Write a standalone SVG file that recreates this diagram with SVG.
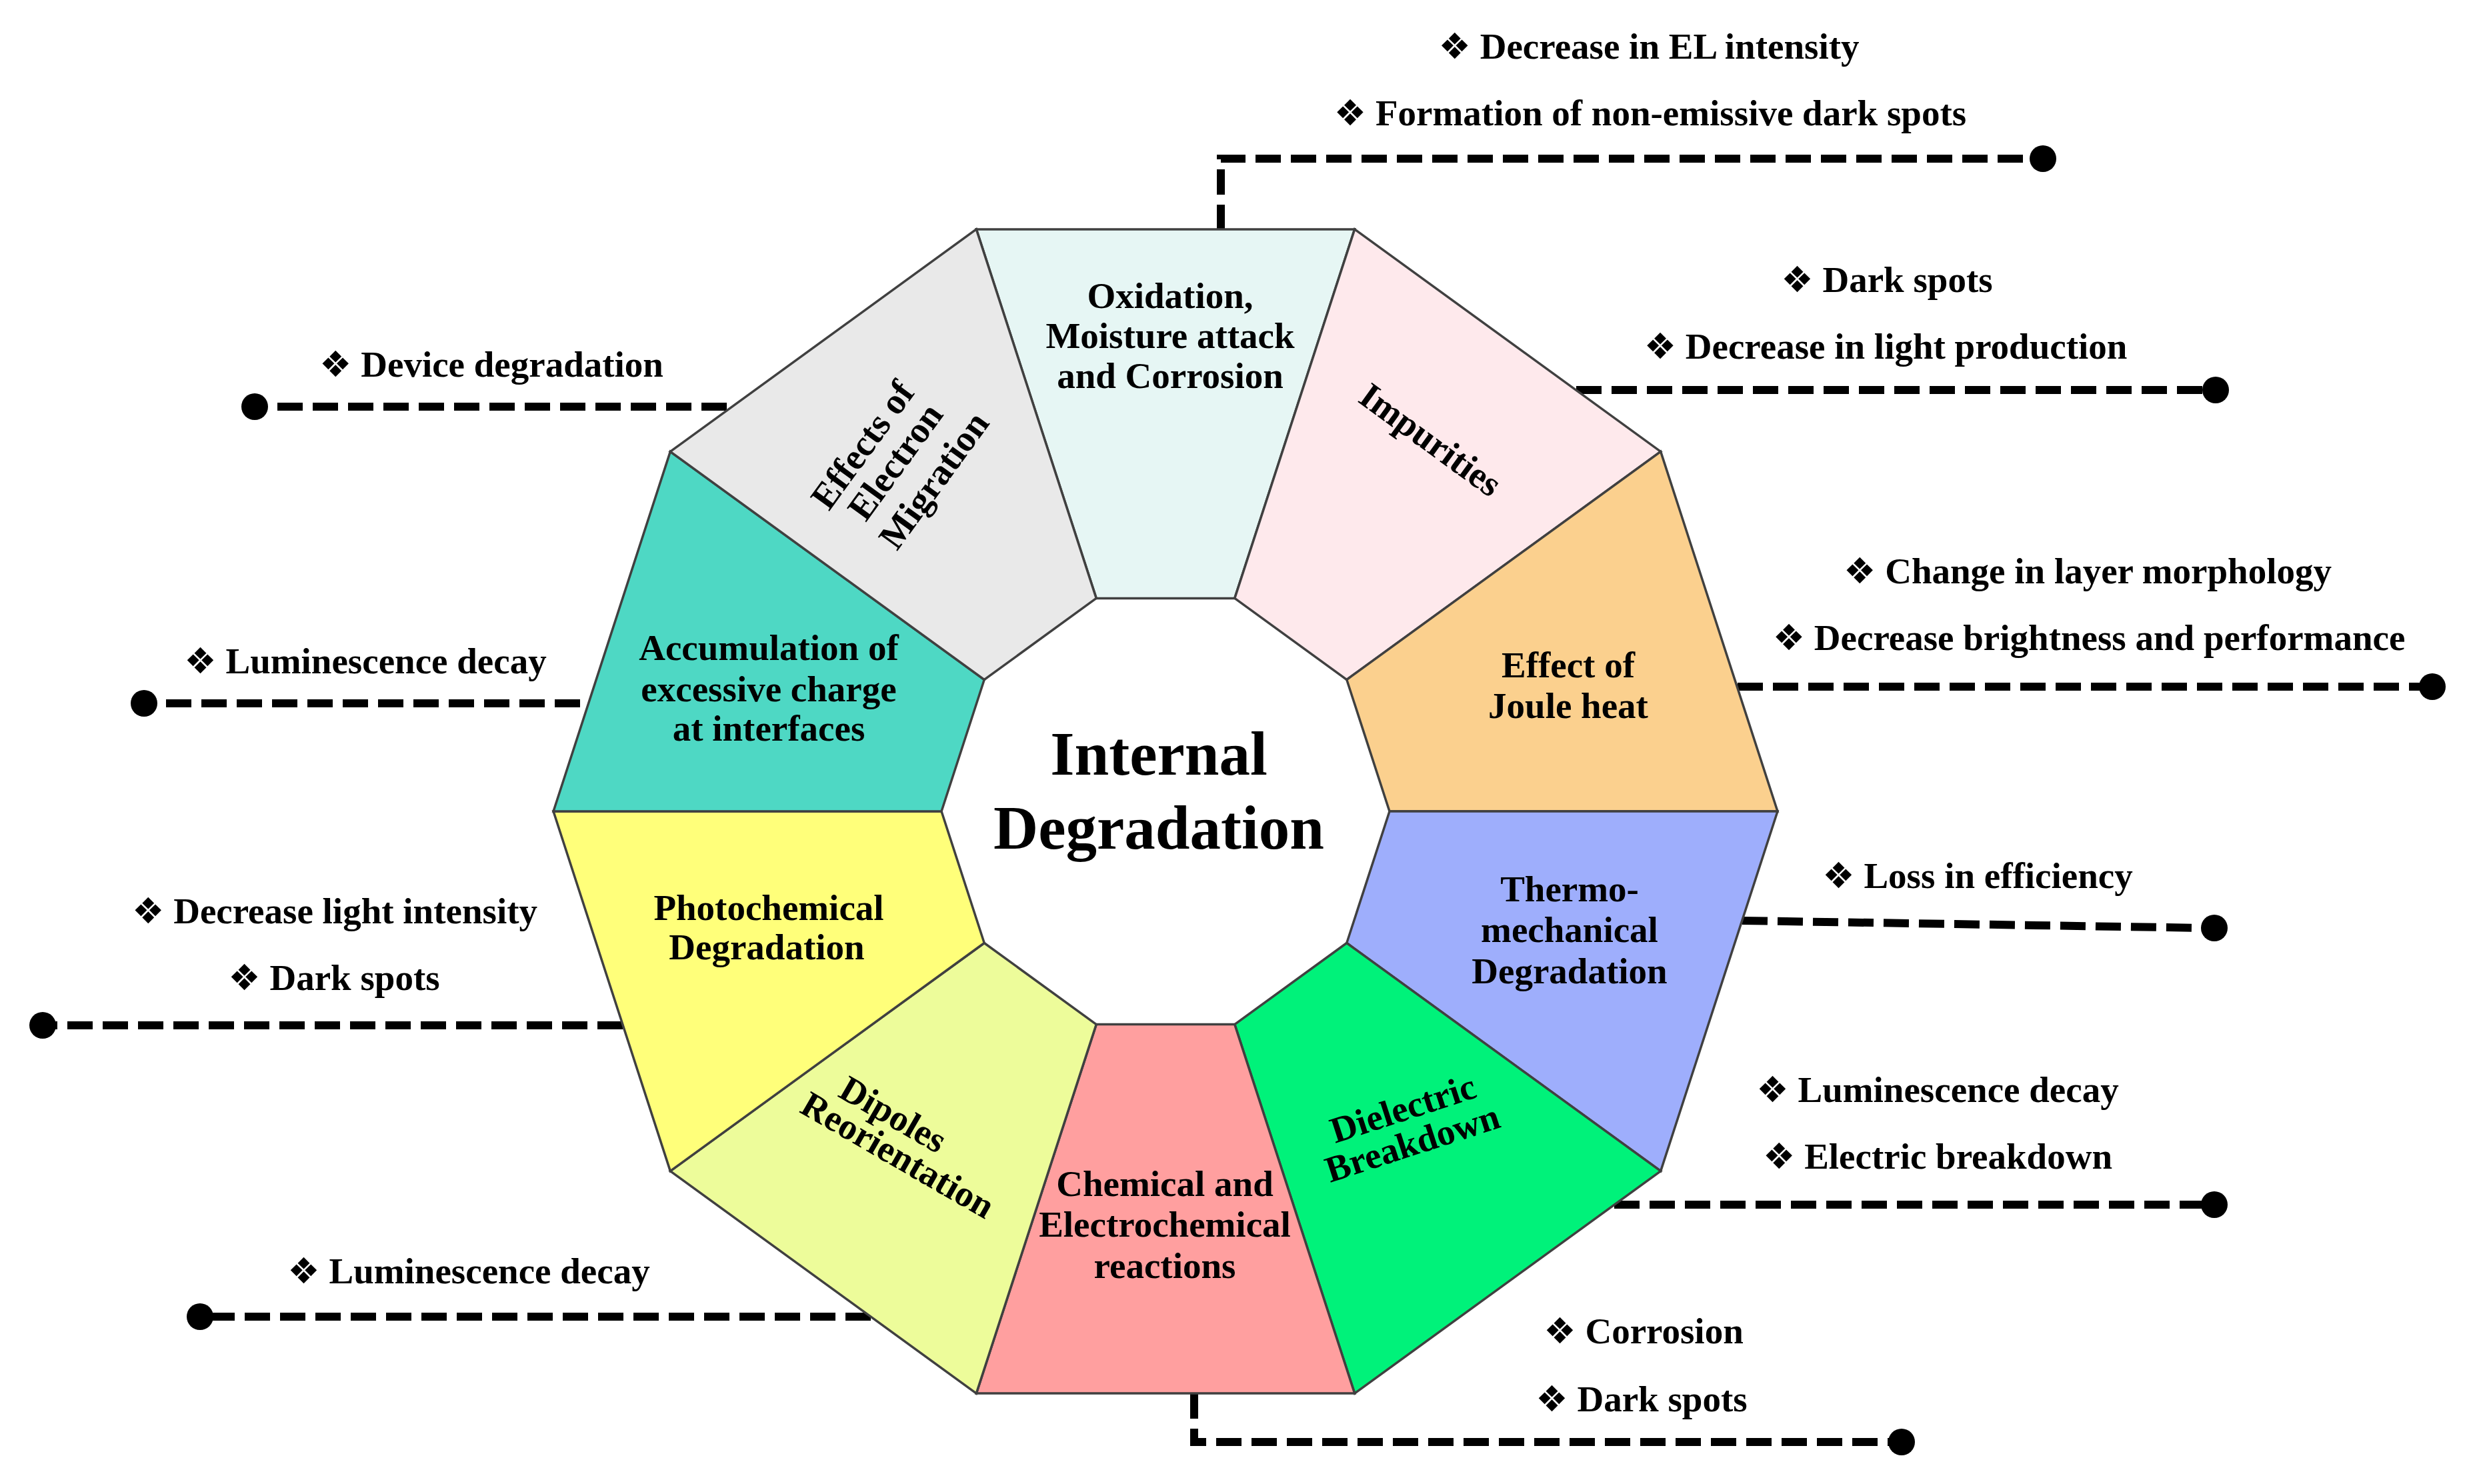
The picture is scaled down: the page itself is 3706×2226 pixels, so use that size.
<svg xmlns="http://www.w3.org/2000/svg" width="3706" height="2226" viewBox="0 0 3706 2226">
<style>
.seg{stroke:#404040;stroke-width:3.5;stroke-linejoin:miter}
.lbl{font-family:"Liberation Serif","Times New Roman",serif;font-weight:bold;font-size:55px;fill:#000;text-anchor:middle}
.side{font-family:"Liberation Serif","Times New Roman",serif;font-weight:bold;font-size:55px;fill:#000;text-anchor:middle}
.dia{font-family:"DejaVu Sans",sans-serif;font-size:54px;font-weight:normal}
.title{font-family:"Liberation Serif","Times New Roman",serif;font-weight:bold;font-size:93px;fill:#000;text-anchor:middle}
.con{fill:none;stroke:#000;stroke-width:12;stroke-dasharray:38 15}
.dot{fill:#000}
</style>
<rect width="3706" height="2226" fill="#fff"/>
<g id="connectors">
<path class="con" d="M1831,345 V238 H3050"/><circle class="dot" cx="3064" cy="238" r="20"/>
<path class="con" d="M2364,585 H3310"/><circle class="dot" cx="3323" cy="585" r="20"/>
<path class="con" d="M2606,1030 H3635"/><circle class="dot" cx="3648" cy="1030" r="20"/>
<path class="con" d="M2613,1381 L3308,1392"/><circle class="dot" cx="3321" cy="1392" r="20"/>
<path class="con" d="M2421,1807 H3308"/><circle class="dot" cx="3321" cy="1807" r="20"/>
<path class="con" d="M1791,2090 V2163 H2840"/><circle class="dot" cx="2852" cy="2163" r="20"/>
<path class="con" d="M1306,1975 H312"/><circle class="dot" cx="300" cy="1975" r="20"/>
<path class="con" d="M934,1538 H76"/><circle class="dot" cx="64" cy="1538" r="20"/>
<path class="con" d="M870,1055 H228"/><circle class="dot" cx="216" cy="1055" r="20"/>
<path class="con" d="M1090,610 H394"/><circle class="dot" cx="382" cy="610" r="20"/>
</g>
<g id="n-oxidation">
<polygon class="seg" fill="#E6F6F4" points="1464.3,343.9 2031.7,343.9 1851.8,897.4 1644.2,897.4"/>
<text class="lbl" x="1755" y="462">Oxidation,</text>
<text class="lbl" x="1755" y="522">Moisture attack</text>
<text class="lbl" x="1755" y="582">and Corrosion</text>
</g>
<g id="n-impurities">
<polygon class="seg" fill="#FEE9EC" points="2031.7,343.9 2490.7,677.4 2019.8,1019.5 1851.8,897.4"/>
<text class="lbl" transform="translate(2146,659) rotate(36)" y="19">Impurities</text>
</g>
<g id="n-joule">
<polygon class="seg" fill="#FBD08E" points="2490.7,677.4 2666,1217 2084,1217 2019.8,1019.5"/>
<text class="lbl" x="2352" y="1016">Effect of</text>
<text class="lbl" x="2352" y="1077">Joule heat</text>
</g>
<g id="n-thermo">
<polygon class="seg" fill="#9EAEFC" points="2666,1217 2490.7,1756.6 2019.8,1414.5 2084,1217"/>
<text class="lbl" x="2354" y="1352">Thermo-</text>
<text class="lbl" x="2354" y="1413">mechanical</text>
<text class="lbl" x="2354" y="1475">Degradation</text>
</g>
<g id="n-dielectric">
<polygon class="seg" fill="#00F27A" points="2490.7,1756.6 2031.7,2090.1 1851.8,1536.6 2019.8,1414.5"/>
<text class="lbl" transform="translate(2104,1662) rotate(-18)" y="19">Dielectric</text>
<text class="lbl" transform="translate(2118,1714) rotate(-18)" y="19">Breakdown</text>
</g>
<g id="n-chemical">
<polygon class="seg" fill="#FF9F9F" points="2031.7,2090.1 1464.3,2090.1 1644.2,1536.6 1851.8,1536.6"/>
<text class="lbl" x="1747" y="1794">Chemical and</text>
<text class="lbl" x="1747" y="1855">Electrochemical</text>
<text class="lbl" x="1747" y="1917">reactions</text>
</g>
<g id="n-dipoles">
<polygon class="seg" fill="#EDFC9A" points="1464.3,2090.1 1005.3,1756.6 1476.2,1414.5 1644.2,1536.6"/>
<text class="lbl" transform="translate(1340,1671) rotate(30)" y="19">Dipoles</text>
<text class="lbl" transform="translate(1347,1732) rotate(30)" y="19">Reorientation</text>
</g>
<g id="n-photochemical">
<polygon class="seg" fill="#FFFF7A" points="1005.3,1756.6 830,1217 1412,1217 1476.2,1414.5"/>
<text class="lbl" x="1153" y="1380">Photochemical</text>
<text class="lbl" x="1150" y="1439">Degradation</text>
</g>
<g id="n-accumulation">
<polygon class="seg" fill="#4ED8C4" points="830,1217 1005.3,677.4 1476.2,1019.5 1412,1217"/>
<text class="lbl" x="1153" y="990">Accumulation of</text>
<text class="lbl" x="1153" y="1052">excessive charge</text>
<text class="lbl" x="1153" y="1111">at interfaces</text>
</g>
<g id="n-migration">
<polygon class="seg" fill="#E9E9E9" points="1005.3,677.4 1464.3,343.9 1644.2,897.4 1476.2,1019.5"/>
<text class="lbl" transform="translate(1293,667) rotate(-54)" y="19">Effects of</text>
<text class="lbl" transform="translate(1342,692) rotate(-54)" y="19">Electron</text>
<text class="lbl" transform="translate(1400,720) rotate(-54)" y="19">Migration</text>
</g>
<g id="n-center">
<text class="title" x="1738" y="1162">Internal</text>
<text class="title" x="1738" y="1273">Degradation</text>
</g>
<g id="effects">
<text class="side" x="2473" y="88"><tspan class="dia">❖</tspan> Decrease in EL intensity</text>
<text class="side" x="2475" y="188"><tspan class="dia">❖</tspan> Formation of non-emissive dark spots</text>
<text class="side" x="2830" y="438"><tspan class="dia">❖</tspan> Dark spots</text>
<text class="side" x="2828" y="538"><tspan class="dia">❖</tspan> Decrease in light production</text>
<text class="side" x="3131" y="875"><tspan class="dia">❖</tspan> Change in layer morphology</text>
<text class="side" x="3133" y="975"><tspan class="dia">❖</tspan> Decrease brightness and performance</text>
<text class="side" x="2966" y="1332"><tspan class="dia">❖</tspan> Loss in efficiency</text>
<text class="side" x="2906" y="1653"><tspan class="dia">❖</tspan> Luminescence decay</text>
<text class="side" x="2906" y="1753"><tspan class="dia">❖</tspan> Electric breakdown</text>
<text class="side" x="2465" y="2015"><tspan class="dia">❖</tspan> Corrosion</text>
<text class="side" x="2462" y="2117"><tspan class="dia">❖</tspan> Dark spots</text>
<text class="side" x="703" y="1925"><tspan class="dia">❖</tspan> Luminescence decay</text>
<text class="side" x="502" y="1385"><tspan class="dia">❖</tspan> Decrease light intensity</text>
<text class="side" x="501" y="1485"><tspan class="dia">❖</tspan> Dark spots</text>
<text class="side" x="548" y="1010"><tspan class="dia">❖</tspan> Luminescence decay</text>
<text class="side" x="737" y="565"><tspan class="dia">❖</tspan> Device degradation</text>
</g>
</svg>
